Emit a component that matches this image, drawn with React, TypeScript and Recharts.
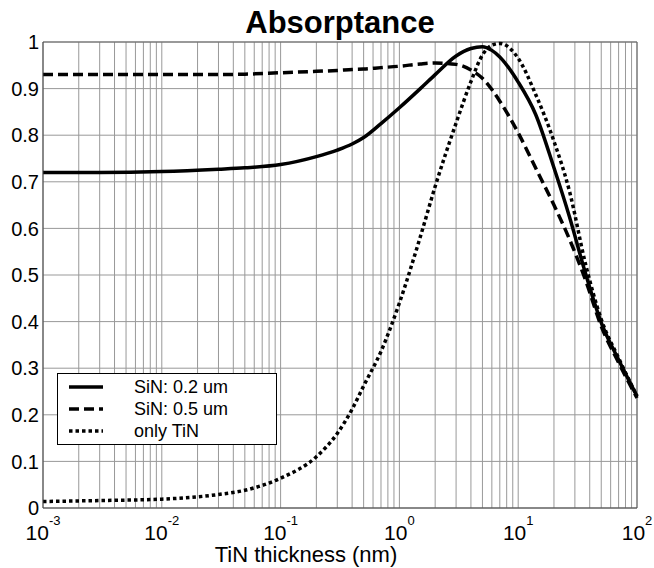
import React from "react";
import { LineChart, Line, XAxis, YAxis, CartesianGrid, Legend, ReferenceLine } from "recharts";

const FONT = '"Liberation Sans", Arial, Helvetica, sans-serif';

// TiN thickness (nm), log axis
const thickness = [
  0.001, 0.003, 0.01, 0.03, 0.05, 0.1, 0.2, 0.3, 0.4, 0.5, 0.7,
  1, 1.5, 2, 3, 4, 5, 6, 7,
  10, 14, 20, 27, 37, 50, 70, 100,
];
const sin02 = [
  0.72, 0.72, 0.722, 0.727, 0.73, 0.737, 0.754, 0.768, 0.781, 0.795, 0.825,
  0.859, 0.9, 0.93, 0.97, 0.986, 0.99, 0.982, 0.968,
  0.914, 0.845, 0.73, 0.625, 0.502, 0.398, 0.318, 0.24,
];
const sin05 = [
  0.93, 0.93, 0.93, 0.93, 0.931, 0.934, 0.937, 0.939, 0.941, 0.942, 0.945,
  0.948, 0.953, 0.955, 0.952, 0.94, 0.922, 0.898, 0.873,
  0.805, 0.73, 0.65, 0.577, 0.488, 0.39, 0.312, 0.236,
];
const onlyTin = [
  0.014, 0.016, 0.019, 0.029, 0.038, 0.064, 0.11, 0.16, 0.212, 0.262, 0.336,
  0.44, 0.582, 0.69, 0.826, 0.915, 0.972, 0.993, 0.997,
  0.965, 0.888, 0.787, 0.68, 0.522, 0.405, 0.322, 0.24,
];

const decades = [0.001, 0.01, 0.1, 1, 10, 100];
const yTicks = [0, 0.1, 0.2, 0.3, 0.4, 0.5, 0.6, 0.7, 0.8, 0.9, 1];

const SERIES = [
  { key: "sin02", name: "SiN: 0.2 um", dash: undefined },
  { key: "sin05", name: "SiN: 0.5 um", dash: "10 5" },
  { key: "onlyTin", name: "only TiN", dash: "3.5 3" },
];

const data = thickness.map((x, i) => ({
  x,
  sin02: sin02[i],
  sin05: sin05[i],
  onlyTin: onlyTin[i],
}));

// log grid: 1..9 in every decade, plus the last one
const xTicks: number[] = [];
decades.slice(0, -1).forEach((d) => {
  for (let m = 1; m < 10; m++) xTicks.push(+(d * m).toPrecision(3));
});
xTicks.push(100);

function PowerTick({ x, y, payload }: any) {
  const lg = Math.log10(payload.value);
  const e = Math.round(lg);
  if (Math.abs(lg - e) > 1e-6) return <g />;
  return (
    <text x={x} y={y + 32} textAnchor="middle" fontSize={21} fill="#000" fontFamily={FONT}>
      10
      <tspan dy={-15} fontSize={13}>{e}</tspan>
    </text>
  );
}

function AxisTitle({ viewBox }: any) {
  // the original label sits a bit left of the axis centre
  const cx = viewBox.x + viewBox.width / 2 - 34;
  return (
    <text x={cx} y={viewBox.y + 54} textAnchor="middle" fontSize={22} fill="#000" fontFamily={FONT}>
      TiN thickness (nm)
    </text>
  );
}

function LegendBox() {
  return (
    <div
      style={{
        width: 218,
        height: 68,
        border: "1px solid #000",
        background: "#fff",
        fontFamily: FONT,
        fontSize: 18,
        color: "#000",
        paddingTop: 2,
        boxSizing: "content-box",
        textAlign: "left",
      }}
    >
      {SERIES.map((s) => (
        <div key={s.key} style={{ display: "flex", alignItems: "center", height: 22 }}>
          <svg width={76} height={22} style={{ flex: "none" }}>
            <line x1={11} x2={45} y1={11} y2={11} stroke="#000" strokeWidth={3.5} strokeDasharray={s.dash} />
          </svg>
          <span>{s.name}</span>
        </div>
      ))}
    </div>
  );
}

export default function App() {
  return (
    <div style={{ position: "absolute", left: 0, top: 0, width: 654, height: 568, background: "#fff" }}>
      <div
        style={{
          position: "absolute",
          left: 43,
          width: 594,
          top: 7,
          textAlign: "center",
          fontFamily: FONT,
          fontWeight: "bold",
          fontSize: 31,
          lineHeight: "31px",
          color: "#000",
        }}
      >
        Absorptance
      </div>
      <LineChart width={654} height={568} data={data} margin={{ top: 42, right: 17, bottom: 0, left: 0 }}>
        <CartesianGrid stroke="#999" strokeWidth={1} />
        <XAxis
          dataKey="x"
          type="number"
          scale="log"
          domain={[0.001, 100]}
          ticks={xTicks}
          interval={0}
          height={60}
          tickSize={0}
          tickMargin={0}
          tick={<PowerTick />}
          axisLine={{ stroke: "#444" }}
          label={<AxisTitle />}
        />
        <YAxis
          type="number"
          domain={[0, 1]}
          ticks={yTicks}
          width={43}
          tickSize={0}
          tickMargin={4}
          axisLine={{ stroke: "#444" }}
          tick={{ fontSize: 20, fill: "#000", fontFamily: FONT }}
        />
        <ReferenceLine y={1} stroke="#666" />
        <ReferenceLine x={100} stroke="#666" />
        <Legend
          content={<LegendBox />}
          layout="vertical"
          align="center"
          verticalAlign="middle"
          wrapperStyle={{ left: 57, top: 373, width: 220, height: 70 }}
        />
        {SERIES.map((s) => (
          <Line
            key={s.key}
            dataKey={s.key}
            name={s.name}
            type="monotone"
            stroke="#000"
            strokeWidth={3.5}
            strokeDasharray={s.dash}
            dot={false}
            isAnimationActive={false}
          />
        ))}
      </LineChart>
    </div>
  );
}
